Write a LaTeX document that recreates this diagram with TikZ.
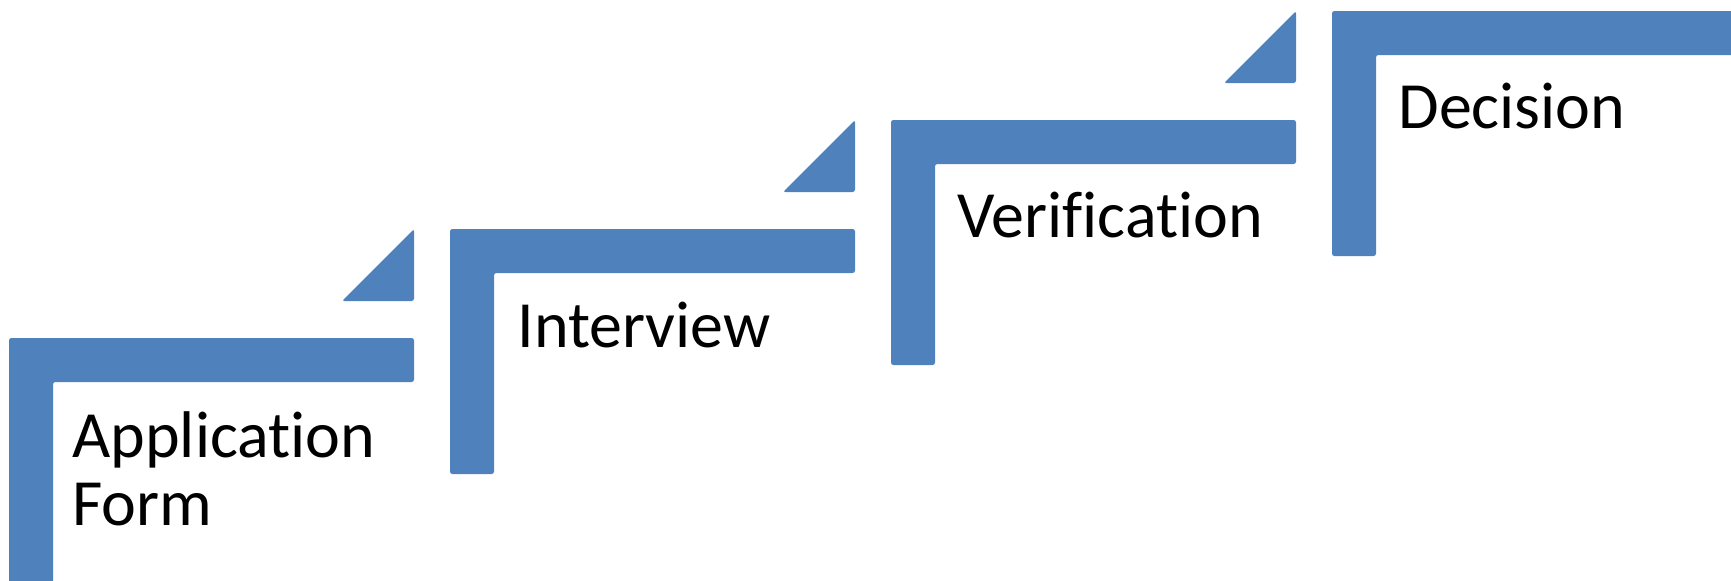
\documentclass[tikz,border=0pt]{standalone}
\usepackage{fontspec}
\setmainfont{Carlito}[Ligatures={NoCommon}]
\definecolor{stepblue}{HTML}{4F81BD}
\tikzset{
  stepshape/.style={fill=stepblue, draw=none, rounded corners=1.2pt},
  steplabel/.style={anchor=base west, inner sep=0pt, font=\fontsize{33}{34}\selectfont, align=left, text=black}
}
\begin{document}
\begin{tikzpicture}[x=0.5pt, y=-0.5pt]
\useasboundingbox (0,0) rectangle (1731,580);
\clip (0,0) rectangle (1731,580);
\foreach \k in {0,1,2,3} {
  \pgfmathsetmacro{\xo}{9+441*\k}
  \pgfmathsetmacro{\yo}{338-109*\k}
  \pgfmathsetmacro{\xr}{\k==3 ? 1800 : \xo+405}
  \fill[stepshape] (\xo,\yo) -- (\xr,\yo) -- (\xr,\yo+44) -- (\xo+44,\yo+44) -- (\xo+44,\yo+245) -- (\xo,\yo+245) -- cycle;
}
\foreach \k in {0,1,2} {
  \pgfmathsetmacro{\xr}{9+441*\k+405}
  \pgfmathsetmacro{\yt}{338-109*\k-109}
  \fill[stepshape] (\xr,\yt) -- (\xr,\yt+72) -- (\xr-72,\yt+72) -- cycle;
}
\node[steplabel] (app) at (72,525) {Application\\Form};
\node[steplabel] (int) at (517,347) {Interview};
\node[steplabel] (ver) at (957,237) {Verification};
\node[steplabel] (dec) at (1398,128) {Decision};
\end{tikzpicture}
\end{document}
